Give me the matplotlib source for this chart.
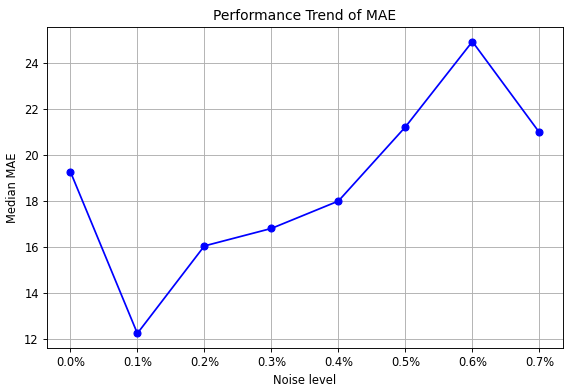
import matplotlib
matplotlib.use("Agg")
import matplotlib.pyplot as plt

# Values
noise_labels = ["0.0%", "0.1%", "0.2%", "0.3%", "0.4%", "0.5%", "0.6%", "0.7%"]
median_mae = [19.28, 12.25, 16.05, 16.81, 18.0, 21.22, 24.93, 20.98]

# reference looks like a default figure rendered at a lower dpi
DPI = 83
fig, ax = plt.subplots(figsize=(572 / DPI, 391 / DPI), dpi=DPI)
fig.subplots_adjust(left=0.082, right=0.984, top=0.931, bottom=0.110)

x = range(len(noise_labels))
ax.plot(x, median_mae, marker="o", color="blue")
ax.set_xticks(list(x))
ax.set_xticklabels(noise_labels)
ax.set_title("Performance Trend of MAE")
ax.set_xlabel("Noise level")
ax.set_ylabel("Median MAE")
ax.grid(True)

fig.savefig("out.png", dpi=DPI)
